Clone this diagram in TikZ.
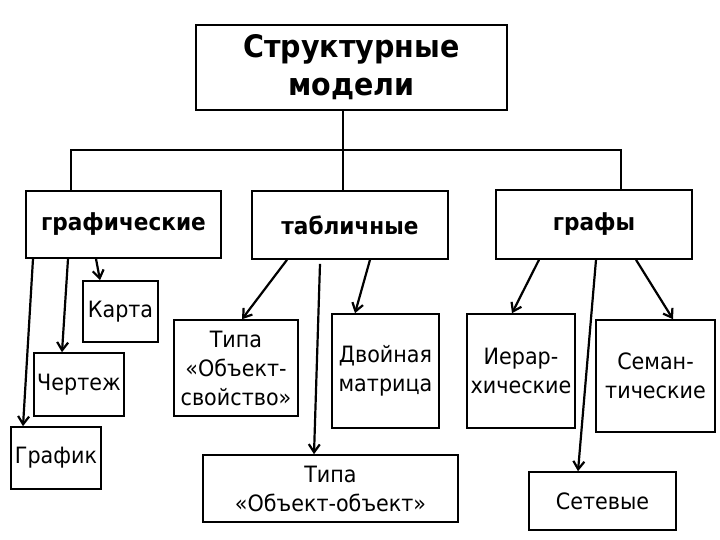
\documentclass[tikz,border=0pt]{standalone}
\usepackage{fontspec}
\setmainfont[FakeStretch=0.92]{DejaVu Sans}
\usetikzlibrary{arrows.meta}
\tikzset{
  mbox/.style={draw, line width=1.6pt, fill=white, inner sep=0pt, align=center},
  headbox/.style={mbox, font=\bfseries\fontsize{23.5}{27}\selectfont},
  leafbox/.style={mbox, font=\fontsize{22.5}{29}\selectfont},
  tree/.style={line width=1.4pt},
  arr/.style={line width=2.2pt, -{Straight Barb[length=8pt,width=11pt]}}
}
\begin{document}
\begin{tikzpicture}
\useasboundingbox (0pt,0pt) rectangle (720pt,-540pt);
% root
\node[mbox, font=\bfseries\fontsize{31}{38}\selectfont, minimum width=311pt, minimum height=85pt]
  (top) at (351.5pt,-67.5pt) {Структурные\\модели};
% second level
\node[headbox, minimum width=195pt, minimum height=67pt] (graf) at (123.5pt,-224.5pt) {графические};
\node[headbox, minimum width=196pt, minimum height=68pt] (tabl) at (350pt,-225pt) {табличные};
\node[headbox, minimum width=196pt, minimum height=69pt] (grafy) at (594pt,-224.5pt) {графы};
% leaves
\node[leafbox, minimum width=75pt, minimum height=61pt] (karta) at (120.5pt,-311.5pt) {Карта};
\node[leafbox, minimum width=90pt, minimum height=63pt] (chert) at (79pt,-384.5pt) {Чертеж};
\node[leafbox, minimum width=90pt, minimum height=62pt] (grafik) at (56pt,-458pt) {График};
\node[leafbox, minimum width=124pt, minimum height=96pt] (tos) at (236pt,-368pt) {Типа\\«Объект-\\свойство»};
\node[leafbox, minimum width=107pt, minimum height=114pt] (dvm) at (385.5pt,-371pt) {Двойная\\матрица};
\node[leafbox, minimum width=255pt, minimum height=67pt] (too) at (330.5pt,-488.5pt) {Типа\\«Объект-объект»};
\node[leafbox, minimum width=108pt, minimum height=114pt] (ier) at (521pt,-371pt) {Иерар-\\хические};
\node[leafbox, minimum width=119pt, minimum height=112pt] (sem) at (655.5pt,-376pt) {Семан-\\тические};
\node[leafbox, minimum width=147pt, minimum height=58pt] (set) at (602.5pt,-501pt) {Сетевые};
% tree
\coordinate (bus) at (343pt,-150pt);
\draw[tree] ([xshift=-8.5pt]top.south) -- ([xshift=-7pt]tabl.north);
\draw[tree] ([xshift=-52.5pt]graf.north) |- (bus) -| ([xshift=27pt]grafy.north);
% arrows
\draw[arr] ([xshift=-27.5pt]graf.south) -- ([xshift=-20.5pt]karta.north);
\draw[arr] ([xshift=-55.5pt]graf.south) -- ([xshift=-17pt]chert.north);
\draw[arr] ([xshift=-90.5pt]graf.south) -- ([xshift=-33pt]grafik.north);
\draw[arr] ([xshift=-63pt]tabl.south) -- ([xshift=6pt]tos.north);
\draw[arr] ([xshift=-30pt,yshift=-4pt]tabl.south) -- ([xshift=-16.5pt]too.north);
\draw[arr] ([xshift=20pt]tabl.south) -- ([xshift=-30.5pt]dvm.north);
\draw[arr] ([xshift=-55pt]grafy.south) -- ([xshift=-9pt]ier.north);
\draw[arr] ([xshift=2pt]grafy.south) -- ([xshift=-24.5pt]set.north);
\draw[arr] ([xshift=42pt]grafy.south) -- ([xshift=17.5pt]sem.north);
\end{tikzpicture}
\end{document}
